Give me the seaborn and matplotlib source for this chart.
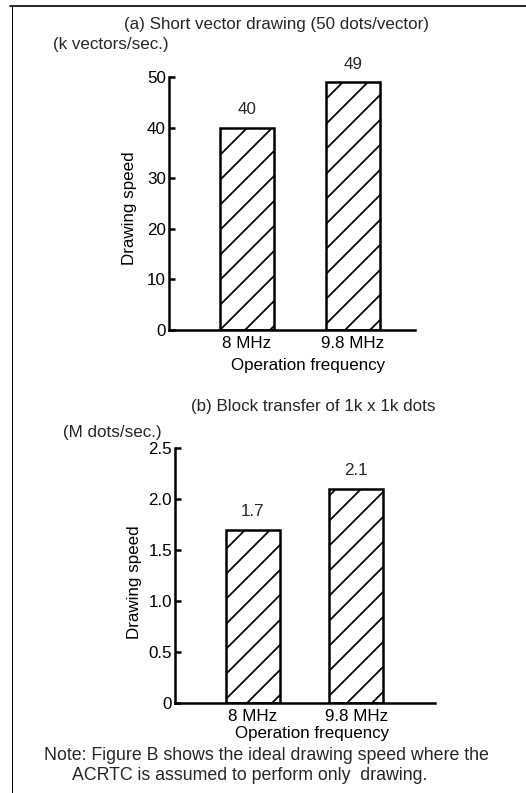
import matplotlib
matplotlib.use("Agg")
import matplotlib.pyplot as plt
import seaborn as sns
import pandas as pd
from matplotlib.lines import Line2D

# data
freqs = ["8 MHz", "9.8 MHz"]
vector_speed = [40, 49]      # k vectors/sec.
block_speed = [1.7, 2.1]     # M dots/sec.
vector_ticks = [0, 10, 20, 30, 40, 50]
vector_ticklabels = ["0", "10", "20", "30", "40", "50"]
block_ticks = [0, 0.5, 1.0, 1.5, 2.0, 2.5]
block_ticklabels = ["0", "0.5", "1.0", "1.5", "2.0", "2.5"]

sns.set_theme(style="ticks")
plt.rcParams["font.family"] = ["Liberation Sans", "DejaVu Sans"]
plt.rcParams["hatch.linewidth"] = 0.85
plt.rcParams["hatch.color"] = "black"

FS = 8.2
DPI = 150
W, H = 526, 793
fig = plt.figure(figsize=(W / DPI, H / DPI), dpi=DPI)
fig.patch.set_facecolor("white")


def draw_panel(ax, values, ticks, ticklabels, width, xlim, ylab_xy, xlab_xy):
    df = pd.DataFrame({"freq": freqs, "speed": values})
    sns.barplot(data=df, x="freq", y="speed", ax=ax, color="white",
                saturation=1, edgecolor="black", linewidth=1.2, width=width)
    for p in ax.patches:
        p.set_hatch("//")
    ax.bar_label(ax.containers[0], labels=[str(v) for v in values],
                 padding=5, fontsize=FS)

    ax.set_facecolor("white")
    ax.set_xlim(*xlim)
    ax.set_ylim(0, ticks[-1])
    ax.set_yticks(ticks)
    ax.set_yticklabels(ticklabels)
    for side in ("top", "right"):
        ax.spines[side].set_visible(False)
    for side in ("left", "bottom"):
        ax.spines[side].set_linewidth(1.2)
        ax.spines[side].set_color("black")
    ax.tick_params(axis="y", direction="in", length=3, width=1.2,
                   labelsize=FS, pad=1.5, colors="black")
    ax.tick_params(axis="x", length=0, labelsize=FS, pad=3, colors="black")

    ax.set_ylabel("Drawing speed", fontsize=FS, color="black")
    ax.yaxis.set_label_coords(*ylab_xy)
    ax.yaxis.label.set_verticalalignment("center")
    ax.set_xlabel("Operation frequency", fontsize=FS, color="black")
    ax.xaxis.set_label_coords(*xlab_xy)
    ax.xaxis.label.set_verticalalignment("center")


ax_a = fig.add_axes([169 / W, 1 - 330 / H, 246 / W, 253 / H])
draw_panel(ax_a, vector_speed, vector_ticks, vector_ticklabels, 0.51,
           (-0.736, 1.585), (-0.16, 0.482), (0.565, -0.14))

ax_b = fig.add_axes([175 / W, 1 - 703 / H, 260 / W, 255 / H])
draw_panel(ax_b, block_speed, block_ticks, block_ticklabels, 0.52,
           (-0.75, 1.76), (-0.155, 0.475), (0.527, -0.118))

# titles, unit labels and note
fig.text(277 / W, 1 - 25 / H, "(a) Short vector drawing (50 dots/vector)",
         ha="center", va="center", fontsize=FS)
fig.text(53 / W, 1 - 45 / H, "(k vectors/sec.)", ha="left", va="center", fontsize=FS)
fig.text(313 / W, 1 - 406 / H, "(b) Block transfer of 1k x 1k dots",
         ha="center", va="center", fontsize=FS)
fig.text(63 / W, 1 - 432 / H, "(M dots/sec.)", ha="left", va="center", fontsize=FS)
fig.text(266 / W, 1 - 755 / H,
         "Note: Figure B shows the ideal drawing speed where the",
         ha="center", va="center", fontsize=FS + 0.3)
fig.text(250 / W, 1 - 775 / H, "ACRTC is assumed to perform only  drawing.",
         ha="center", va="center", fontsize=FS + 0.3)

# scanned page frame (top and left edge)
fig.add_artist(Line2D([10 / W, 1], [1 - 6 / H, 1 - 6 / H], color="black", lw=0.8))
fig.add_artist(Line2D([12 / W, 12 / W], [0, 1 - 6 / H], color="black", lw=0.5))

fig.savefig("out.png", dpi=DPI, facecolor="white")
